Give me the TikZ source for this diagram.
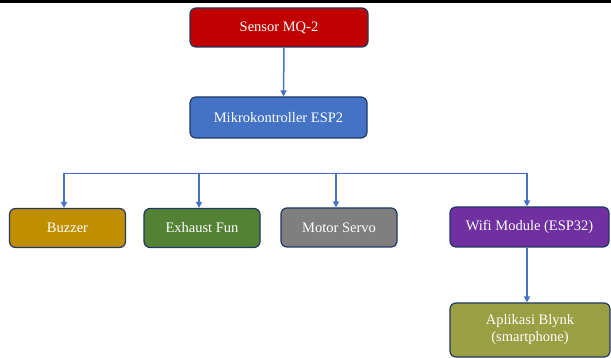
\documentclass[tikz,border=0pt]{standalone}
\usepackage{fontspec}
\setmainfont{Liberation Serif}
\usetikzlibrary{arrows.meta}
\definecolor{boxline}{HTML}{203864}
\definecolor{link}{HTML}{4472C4}
\definecolor{redbox}{HTML}{C00000}
\definecolor{bluebox}{HTML}{4472C4}
\definecolor{goldbox}{HTML}{BF8F00}
\definecolor{greenbox}{HTML}{548235}
\definecolor{greybox}{HTML}{7F7F7F}
\definecolor{purplebox}{HTML}{7030A0}
\definecolor{olivebox}{HTML}{9A9F43}
\begin{document}
\begin{tikzpicture}[x=1pt,y=-1pt,
  block/.style={draw=boxline, line width=1.2pt, rounded corners=6pt, text=white, align=center,
    font=\fontsize{14.5}{17}\selectfont, inner sep=0pt},
  arr/.style={-{Triangle[length=6pt,width=6pt]}, draw=link, line width=1.5pt}]
\useasboundingbox (0,0) rectangle (611,358);
\draw[line width=3pt] (0,1.5) -- (611,1.5);

\node[block, fill=redbox, minimum width=178pt, minimum height=39pt] (s) at (279,27.5) {Sensor MQ-2};
\node[block, fill=bluebox, minimum width=177pt, minimum height=41pt] (m) at (278.5,117.5) {Mikrokontroller ESP2};

\node[block, fill=goldbox, minimum width=116pt, minimum height=39pt] (buz) at (67.5,228) {Buzzer};
\node[block, fill=greenbox, minimum width=116pt, minimum height=39pt] (ex) at (202,228) {Exhaust Fun};
\node[block, fill=greybox, minimum width=116pt, minimum height=39pt] (mot) at (339,227.5) {Motor Servo};
\node[block, fill=purplebox, minimum width=159pt, minimum height=40pt] (wifi) at (529.5,227) {Wifi Module (ESP32)};
\node[block, fill=olivebox, minimum width=160pt, minimum height=54pt] (bly) at (530,330) {Aplikasi Blynk\\(smartphone)};

\coordinate (bl) at (64,173);
\coordinate (br) at (527,173);
\draw[draw=link, line width=0.8pt] (bl) -- (br);

\draw[arr] ([xshift=5pt]s.south) -- ([xshift=5pt]m.north);
\draw[arr] (bl) -- (bl |- buz.north);
\draw[arr] ([xshift=-3pt]ex.north |- bl) -- ([xshift=-3pt]ex.north);
\draw[arr] ([xshift=-3pt]mot.north |- bl) -- ([xshift=-3pt]mot.north);
\draw[arr] (br) -- (br |- wifi.north);
\draw[arr] (br |- wifi.south) -- (br |- bly.north);
\end{tikzpicture}
\end{document}
